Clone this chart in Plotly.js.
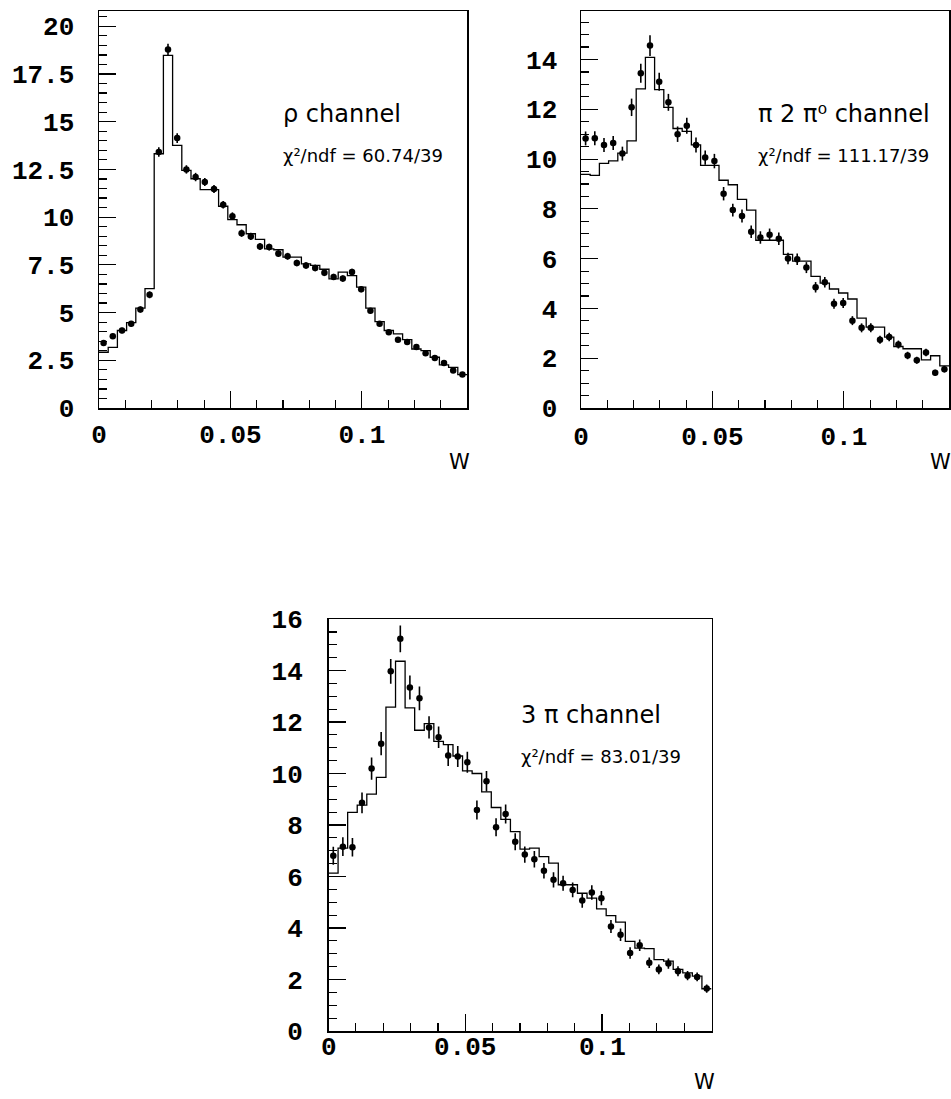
<!DOCTYPE html>
<html>
<head>
<meta charset="utf-8">
<script src="https://cdn.plot.ly/plotly-3.0.1.min.js"></script>
<style>html,body{margin:0;padding:0;background:#fff;}#chart{width:951px;height:1099px;}</style>
</head>
<body>
<div id="chart"></div>
<script>
// ---- data ----
const nBins = 40;
const wMin = 0.0;
const wMax = 0.14;

// rho channel
const rhoData = [3.41,3.76,4.06,4.41,5.16,5.93,13.41,18.78,14.14,12.50,12.10,11.84,11.47,10.65,10.05,9.16,8.99,8.46,8.43,8.09,7.95,7.60,7.47,7.33,7.08,6.87,6.78,7.12,6.22,5.09,4.41,3.97,3.58,3.46,3.20,2.87,2.62,2.36,1.96,1.75];
const rhoErr  = [0.12,0.13,0.14,0.15,0.16,0.18,0.25,0.30,0.25,0.22,0.22,0.21,0.21,0.20,0.20,0.19,0.19,0.18,0.18,0.18,0.18,0.17,0.17,0.17,0.17,0.16,0.16,0.17,0.15,0.14,0.13,0.12,0.12,0.12,0.11,0.11,0.10,0.10,0.09,0.09];
const rhoFit  = [2.92,3.18,4.06,4.47,5.23,6.25,13.32,18.48,13.76,12.45,12.01,11.44,11.44,10.57,9.87,9.60,9.13,8.83,8.34,8.29,7.90,7.90,7.55,7.47,7.27,6.77,7.12,6.94,6.33,5.23,4.53,4.06,3.88,3.58,3.09,3.01,2.66,2.26,2.13,1.75];

// pi 2pi0 channel
const pi2Data = [10.83,10.84,10.57,10.65,10.22,12.08,13.45,14.56,13.11,12.28,11.00,11.34,10.57,10.06,9.92,8.61,7.95,7.71,7.08,6.85,6.96,6.80,6.01,5.98,5.64,4.85,5.05,4.19,4.22,3.51,3.22,3.22,2.74,2.85,2.55,2.11,1.92,2.23,1.42,1.56];
const pi2Err  = [0.28,0.28,0.28,0.28,0.28,0.35,0.38,0.42,0.36,0.34,0.31,0.32,0.30,0.29,0.29,0.27,0.26,0.26,0.25,0.25,0.25,0.25,0.23,0.23,0.22,0.21,0.21,0.20,0.20,0.18,0.18,0.18,0.16,0.17,0.16,0.15,0.14,0.15,0.12,0.13];
const pi2Fit  = [9.39,9.35,9.83,9.93,10.24,10.73,12.82,14.09,12.79,12.08,11.23,11.11,10.57,9.75,9.75,9.15,8.97,8.38,7.95,6.74,6.74,6.74,6.17,5.90,5.90,5.29,5.02,4.78,4.62,4.38,3.61,3.25,3.25,2.85,2.47,2.38,2.38,1.93,2.10,1.69];

// 3 pi channel
const pi3Data = [6.81,7.16,7.14,8.86,10.19,11.16,13.97,15.23,13.34,12.92,11.79,11.41,10.70,10.66,10.44,8.58,9.70,7.91,8.43,7.35,6.85,6.67,6.22,5.87,5.74,5.48,5.07,5.38,5.16,4.06,3.74,3.03,3.33,2.65,2.39,2.62,2.32,2.15,2.10,1.65];
const pi3Err  = [0.35,0.36,0.36,0.40,0.43,0.45,0.48,0.52,0.47,0.46,0.43,0.42,0.41,0.41,0.41,0.37,0.40,0.35,0.37,0.33,0.32,0.32,0.30,0.30,0.29,0.29,0.28,0.28,0.28,0.25,0.24,0.22,0.22,0.20,0.19,0.20,0.19,0.18,0.17,0.16];
const pi3Fit  = [6.13,7.10,8.49,8.77,9.20,9.85,12.58,14.36,12.55,11.68,11.94,11.25,11.12,10.68,10.10,10.00,9.29,8.68,8.22,7.74,7.06,7.10,6.77,6.52,5.68,5.68,5.35,5.16,4.74,4.48,4.23,3.48,3.22,3.20,2.77,2.71,2.39,2.26,2.13,1.64];

const labels = [
  {name: "ρ channel", chi: "χ²/ndf = 60.74/39"},
  {name: "π 2 π⁰ channel", chi: "χ²/ndf = 111.17/39"},
  {name: "3 π channel", chi: "χ²/ndf = 83.01/39"}
];
const xTitle = "W";
const xTickVals = [0, 0.05, 0.1];
const xTickText = ["0", "0.05", "0.1"];
const y1TickVals = [0, 2.5, 5, 7.5, 10, 12.5, 15, 17.5, 20];
const y1TickText = ["0", "2.5", "5", "7.5", "10", "12.5", "15", "17.5", "20"];

// ---- derived bin geometry ----
const bw = (wMax - wMin) / nBins;
const centers = [], edges = [];
for (let i = 0; i < nBins; i++) centers.push(wMin + (i + 0.5) * bw);
for (let i = 0; i <= nBins; i++) edges.push(wMin + i * bw);

function histTrace(vals, xa, ya) {
  return {x: edges, y: vals.concat([vals[vals.length - 1]]), type: 'scatter', mode: 'lines',
    line: {shape: 'hv', color: '#000', width: 1.3}, xaxis: xa, yaxis: ya, hoverinfo: 'skip'};
}
function pointTrace(vals, errs, xa, ya) {
  return {x: centers, y: vals, type: 'scatter', mode: 'markers',
    marker: {color: '#000', size: 6.5},
    error_y: {type: 'data', array: errs, visible: true, color: '#000', thickness: 1.6, width: 0},
    xaxis: xa, yaxis: ya};
}

const data = [
  histTrace(rhoFit, 'x', 'y'), pointTrace(rhoData, rhoErr, 'x', 'y'),
  histTrace(pi2Fit, 'x2', 'y2'), pointTrace(pi2Data, pi2Err, 'x2', 'y2'),
  histTrace(pi3Fit, 'x3', 'y3'), pointTrace(pi3Data, pi3Err, 'x3', 'y3')
];

const tickFont = {family: 'Liberation Mono, DejaVu Sans Mono, monospace', size: 26, color: '#000', weight: 'bold'};

function xAxis(domain, anchor, standoff, showLabels) {
  return {domain: domain, anchor: anchor, range: [wMin, wMax], tickvals: xTickVals, ticktext: xTickText,
    ticks: 'inside', ticklen: 17, tickwidth: 1.2, tickcolor: '#000',
    minor: {dtick: 0.01, tick0: 0, ticks: 'inside', ticklen: 8, tickwidth: 1.2, tickcolor: '#000'},
    showline: true, linewidth: 1.5, linecolor: '#000', mirror: true, showticklabels: showLabels,
    showgrid: false, zeroline: false, tickfont: tickFont, ticklabelstandoff: standoff, fixedrange: true};
}
function yAxis(domain, anchor, range, dtick, standoff, tv, tt) {
  const a = {domain: domain, anchor: anchor, range: range,
    ticks: 'inside', ticklen: 17, tickwidth: 1.2, tickcolor: '#000',
    minor: {dtick: 0.5, tick0: 0, ticks: 'inside', ticklen: 8, tickwidth: 1.2, tickcolor: '#000'},
    showline: true, linewidth: 1.5, linecolor: '#000', mirror: true,
    showgrid: false, zeroline: false, tickfont: tickFont, ticklabelstandoff: standoff, fixedrange: true};
  if (tv) { a.tickvals = tv; a.ticktext = tt; } else { a.dtick = dtick; a.tick0 = 0; }
  return a;
}

const W = 951, H = 1099;
const px = v => v / W, py = v => 1 - v / H;

const nameFont = {family: 'DejaVu Sans, sans-serif', size: 24, color: '#000'};
const chiFont = {family: 'DejaVu Sans, sans-serif', size: 18, color: '#000'};
const wFont = {family: 'DejaVu Sans, sans-serif', size: 21, color: '#000'};

function ann(text, x, y, font, xanchor) {
  return {text: text, x: px(x), y: py(y), xref: 'paper', yref: 'paper', xanchor: xanchor || 'left', yanchor: 'middle', showarrow: false, font: font};
}

const annotations = [
  ann(labels[0].name, 281, 114, nameFont),
  ann(labels[0].chi, 281, 155, chiFont),
  ann(labels[1].name, 756, 114, nameFont),
  ann(labels[1].chi, 756, 155, chiFont),
  ann(labels[2].name, 519, 715, nameFont),
  ann(labels[2].chi, 519, 756, chiFont),
  ann(xTitle, 459, 462, wFont, 'center'),
  ann(xTitle, 940, 462, wFont, 'center'),
  ann(xTitle, 704, 1082, wFont, 'center')
];
// tick labels of the lower panel's x axis (sit closer to the axis than the default placement allows)
xTickVals.forEach((v, i) => {
  annotations.push({text: xTickText[i], x: v, xref: 'x3', y: py(1047.5), yref: 'paper',
    xanchor: 'center', yanchor: 'middle', showarrow: false, font: tickFont});
});

const layout = {
  width: W, height: H, margin: {l: 0, r: 0, t: 0, b: 0},
  paper_bgcolor: '#fff', plot_bgcolor: '#fff', showlegend: false,
  xaxis: xAxis([px(99), px(467)], 'y', 2, true),
  yaxis: yAxis([py(408), py(11)], 'x', [0, 20.8], null, 18, y1TickVals, y1TickText),
  xaxis2: xAxis([px(581), px(949)], 'y2', 4, true),
  yaxis2: yAxis([py(408), py(11)], 'x2', [0, 15.95], 2, 17),
  xaxis3: xAxis([px(328.5), px(711.5)], 'y3', 0, false),
  yaxis3: yAxis([py(1031), py(619)], 'x3', [0, 16.001], 2, 19),
  annotations: annotations
};

Plotly.newPlot('chart', data, layout, {staticPlot: true, displayModeBar: false});
</script>
</body>
</html>
